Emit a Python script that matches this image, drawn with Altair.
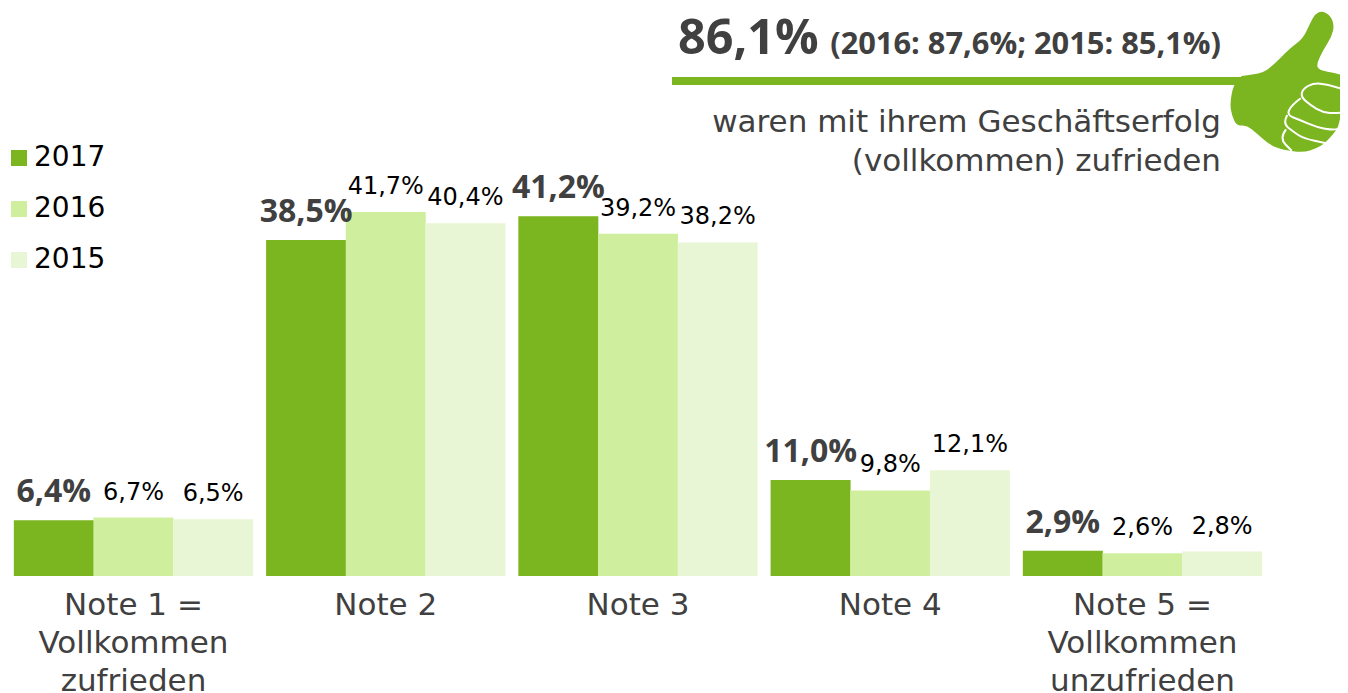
import altair as alt
import pandas as pd

categories = ["Note 1 =|Vollkommen|zufrieden", "Note 2", "Note 3", "Note 4", "Note 5 =|Vollkommen|unzufrieden"]
years = ["2017", "2016", "2015"]
v2017 = [6.4, 38.5, 41.2, 11.0, 2.9]
v2016 = [6.7, 41.7, 39.2, 9.8, 2.6]
v2015 = [6.5, 40.4, 38.2, 12.1, 2.8]
colors = ["#7BB51F", "#CFEF9F", "#E8F6D5"]
FONT = "DejaVu Sans"
BOLD = "Open Sans"
DARK = "#404040"


def fmt(v):
    return f"{v:.1f}".replace(".", ",") + "%"


rows = []
for y, vals in zip(years, [v2017, v2016, v2015]):
    for c, v in zip(categories, vals):
        rows.append({"cat": c, "year": y, "value": v, "label": fmt(v)})
df = pd.DataFrame(rows)

x = alt.X(
    "cat:N",
    sort=categories,
    scale=alt.Scale(range=[6, 1254], paddingInner=0.0525, paddingOuter=0),
    axis=alt.Axis(
        title=None, domain=False, ticks=False, labelAngle=0, labelFont=FONT, labelFontSize=31,
        labelColor=DARK, labelPadding=14, labelLineHeight=38, labelLimit=400, grid=False,
        labelExpr="split(datum.label, '|')",
    ),
)
xo = alt.XOffset("year:N", sort=years)
y = alt.Y("value:Q", scale=alt.Scale(domain=[0, 65.06], nice=False, zero=True), axis=None)

bars = alt.Chart(df).mark_bar(size=80).encode(
    x=x,
    xOffset=xo,
    y=y,
    color=alt.Color(
        "year:N",
        scale=alt.Scale(domain=years, range=colors),
        legend=alt.Legend(
            title=None, orient="none", legendX=-3, legendY=136, symbolType="square", symbolSize=256,
            symbolStrokeWidth=0, labelFont=FONT, labelFontSize=28, labelColor="#000000",
            labelOffset=1, rowPadding=23,
        ),
    ),
)

lab17 = alt.Chart(df[df.year == "2017"]).mark_text(
    font=BOLD, fontSize=32, fontWeight="bold", color=DARK, baseline="alphabetic", dy=-18
).encode(x=x, xOffset=xo, y=y, text="label:N")
lab_rest = alt.Chart(df[df.year != "2017"]).mark_text(
    font=FONT, fontSize=24, color="#000000", baseline="alphabetic", dy=-18
).encode(x=x, xOffset=xo, y=y, text="label:N")


def one(**kw):
    return alt.Chart(pd.DataFrame({"a": [0]})).encode(**kw)


rule = one(x=alt.value(664), x2=alt.value(1240), y=alt.value(73)).mark_rule(color=colors[0], strokeWidth=8)
big = one(x=alt.value(670), y=alt.value(46), text=alt.value("86,1%")).mark_text(
    font=BOLD, fontSize=48.5, fontWeight="bold", color=DARK, align="left", baseline="alphabetic")
sub = one(x=alt.value(1213), y=alt.value(46), text=alt.value("(2016: 87,6%; 2015: 85,1%)")).mark_text(
    font=BOLD, fontSize=30.8, fontWeight="bold", color=DARK, align="right", baseline="alphabetic")
l1 = one(x=alt.value(1213), y=alt.value(124), text=alt.value("waren mit ihrem Geschäftserfolg")).mark_text(
    font=FONT, fontSize=31, color=DARK, align="right", baseline="alphabetic")
l2 = one(x=alt.value(1213), y=alt.value(163), text=alt.value("(vollkommen) zufrieden")).mark_text(
    font=FONT, fontSize=31, color=DARK, align="right", baseline="alphabetic")


def smooth(pts):
    d = f"M{pts[0][0]},{pts[0][1]}"
    for i in range(1, len(pts) - 1):
        mx = (pts[i][0] + pts[i + 1][0]) / 2
        my = (pts[i][1] + pts[i + 1][1]) / 2
        d += f"Q{pts[i][0]},{pts[i][1]} {mx},{my}"
    d += f"L{pts[-1][0]},{pts[-1][1]}"
    return d


# thumb outline; pixels relative to the centre of the icon
def rel(p):
    return (round((p[0] - 420) / 3, 1), round((p[1] - 240) / 3, 1))


hand = [(275, 228), (335, 222), (370, 195), (420, 145), (460, 115), (480, 70), (495, 42), (515, 33), (540, 45),
        (553, 75), (545, 110), (520, 150), (500, 190), (505, 210), (560, 220), (596, 232), (596, 340), (570, 350),
        (565, 385), (525, 430), (500, 445), (460, 458), (400, 450), (360, 435), (320, 400), (290, 375), (260, 378),
        (245, 345), (240, 310), (250, 255), (275, 228)]
fingers = [
    [(570, 265), (530, 252), (490, 250), (460, 265), (452, 290), (480, 315), (520, 338), (560, 340), (596, 335)],
    [(452, 295), (425, 315), (410, 345), (450, 360), (500, 382), (550, 390), (572, 385)],
    [(412, 345), (398, 370), (430, 395), (460, 415), (528, 430)],
    [(408, 388), (388, 415), (425, 452)],
]
hand_path = smooth([rel(p) for p in hand]) + "Z"
finger_path = "".join(smooth([rel(p) for p in f]) for f in fingers)

thumb = one(x=alt.value(1150 + 140 - 8), y=alt.value(80 - 8)).mark_point(
    shape=hand_path, size=4, filled=True, fill=colors[0], opacity=1, strokeWidth=0)
thumb2 = one(x=alt.value(1150 + 140 - 8), y=alt.value(80 - 8)).mark_point(
    shape=finger_path, size=4, filled=False, stroke="#FFFFFF", opacity=1, strokeWidth=2)

chart = alt.layer(
    bars, lab17, lab_rest, rule, thumb, thumb2, big, sub, l1, l2
).properties(
    width=1332, height=568,
    autosize=alt.AutoSizeParams(type="none"),
    padding={"left": 0, "top": 0, "right": 0, "bottom": 117},
).configure_view(stroke=None)

chart.save("out.html", embed_options={"renderer": "svg", "actions": False})
